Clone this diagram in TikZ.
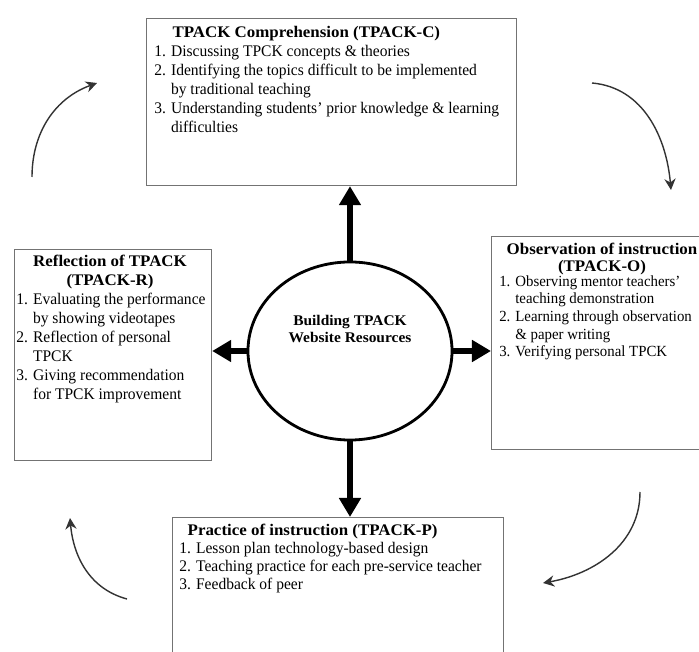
\documentclass[tikz,border=0pt]{standalone}
\usepackage{fontspec}
\setmainfont{Liberation Serif}[FakeStretch=0.96,
    BoldFeatures={FakeStretch=1.045}]
\usetikzlibrary{shapes.geometric}
\usetikzlibrary{arrows.meta, positioning}

\begin{document}
\begin{tikzpicture}[
    x=0.025cm, y=0.025cm,
    box/.style={draw=black!55, line width=0.8pt, anchor=north west,
        inner sep=0pt},
    txt/.style={font=\fontsize{11.5}{13.5}\selectfont, align=left,
        anchor=north west, inner sep=0pt},
    head/.style={font=\fontsize{11.5}{13.5}\selectfont\bfseries,
        align=center, anchor=north, inner sep=0pt},
    spoke/.style={line width=4.5pt,
        -{Triangle[length=4.75mm,width=5.25mm]}},
    turn/.style={draw=black!80, line width=1pt,
        -{Stealth[length=2.8mm,width=2.8mm]}}]

    \useasboundingbox (0,0) rectangle (699,652);

    % the four stages
    \node[box, minimum width=9.25cm, minimum height=4.175cm] (C) at (146,634) {};
    \node[box, minimum width=4.925cm, minimum height=5.275cm] (R) at (14,403) {};
    \node[box, minimum width=5.55cm, minimum height=5.325cm] (O) at (491,416) {};
    \node[box, minimum width=8.275cm, minimum height=4.075cm] (P) at (172,135) {};

    % centre
    \node[ellipse, draw, line width=2pt, minimum width=5.1cm,
        minimum height=4.45cm] (hub) at (350,301) {};
    \node[head, anchor=center, font=\fontsize{10.5}{12}\selectfont\bfseries]
        (hubt) at (350,323) {Building TPACK\\Website Resources};

    % texts
    \node[txt] (Ct) at (154,626) {%
        \hspace*{13pt}\textbf{TPACK Comprehension (TPACK-C)}\\
        1. Discussing TPCK concepts \& theories\\
        2. Identifying the topics difficult to be implemented\\
        \hphantom{2. }by traditional teaching\\
        3. Understanding students' prior knowledge \& learning\\
        \hphantom{3. }difficulties};

    \node[head] (Rh) at (110,397) {Reflection of TPACK\\(TPACK-R)};
    \node[txt] (Rt) at (16,359) {%
        1. Evaluating the performance\\
        \hphantom{1. }by showing videotapes\\
        2. Reflection of personal\\
        \hphantom{2. }TPCK\\
        3. Giving recommendation\\
        \hphantom{3. }for TPCK improvement};

    \node[head, font=\fontsize{11.5}{12}\selectfont\bfseries]
        (Oh) at (602,409) {Observation of instruction\\(TPACK-O)};
    \node[txt, font=\fontsize{11}{12.6}\selectfont] (Ot) at (499,377) {%
        1. Observing mentor teachers'\\
        \hphantom{1. }teaching demonstration\\
        2. Learning through observation\\
        \hphantom{2. }\& paper writing\\
        3. Verifying personal TPCK};

    \node[txt, font=\fontsize{11.5}{12.8}\selectfont] (Pt) at (179,128) {%
        \hspace*{6pt}\textbf{Practice of instruction (TPACK-P)}\\
        1. Lesson plan technology-based design\\
        2. Teaching practice for each pre-service teacher\\
        3. Feedback of peer};

    % spokes
    \draw[spoke] (hub.north) -- (hub.north |- C.south);
    \draw[spoke] (hub.south) -- (hub.south |- P.north);
    \draw[spoke] (hub.west) -- (hub.west -| R.east);
    \draw[spoke] (hub.east) -- (hub.east -| O.west);

    % cycle
    \coordinate (rc0) at (32,475);
    \coordinate (rc1) at (97,569);
    \coordinate (co0) at (592,569);
    \coordinate (co1) at (671,462);
    \coordinate (op0) at (640,160);
    \coordinate (op1) at (543,69);
    \coordinate (pr0) at (127,53);
    \coordinate (pr1) at (70,134);
    \draw[turn] (rc0) to[out=90, in=200] (rc1);
    \draw[turn] (co0) to[out=-5, in=95] (co1);
    \draw[turn] (op0) to[out=-90, in=10] (op1);
    \draw[turn] (pr0) to[out=165, in=-85] (pr1);

\end{tikzpicture}
\end{document}
